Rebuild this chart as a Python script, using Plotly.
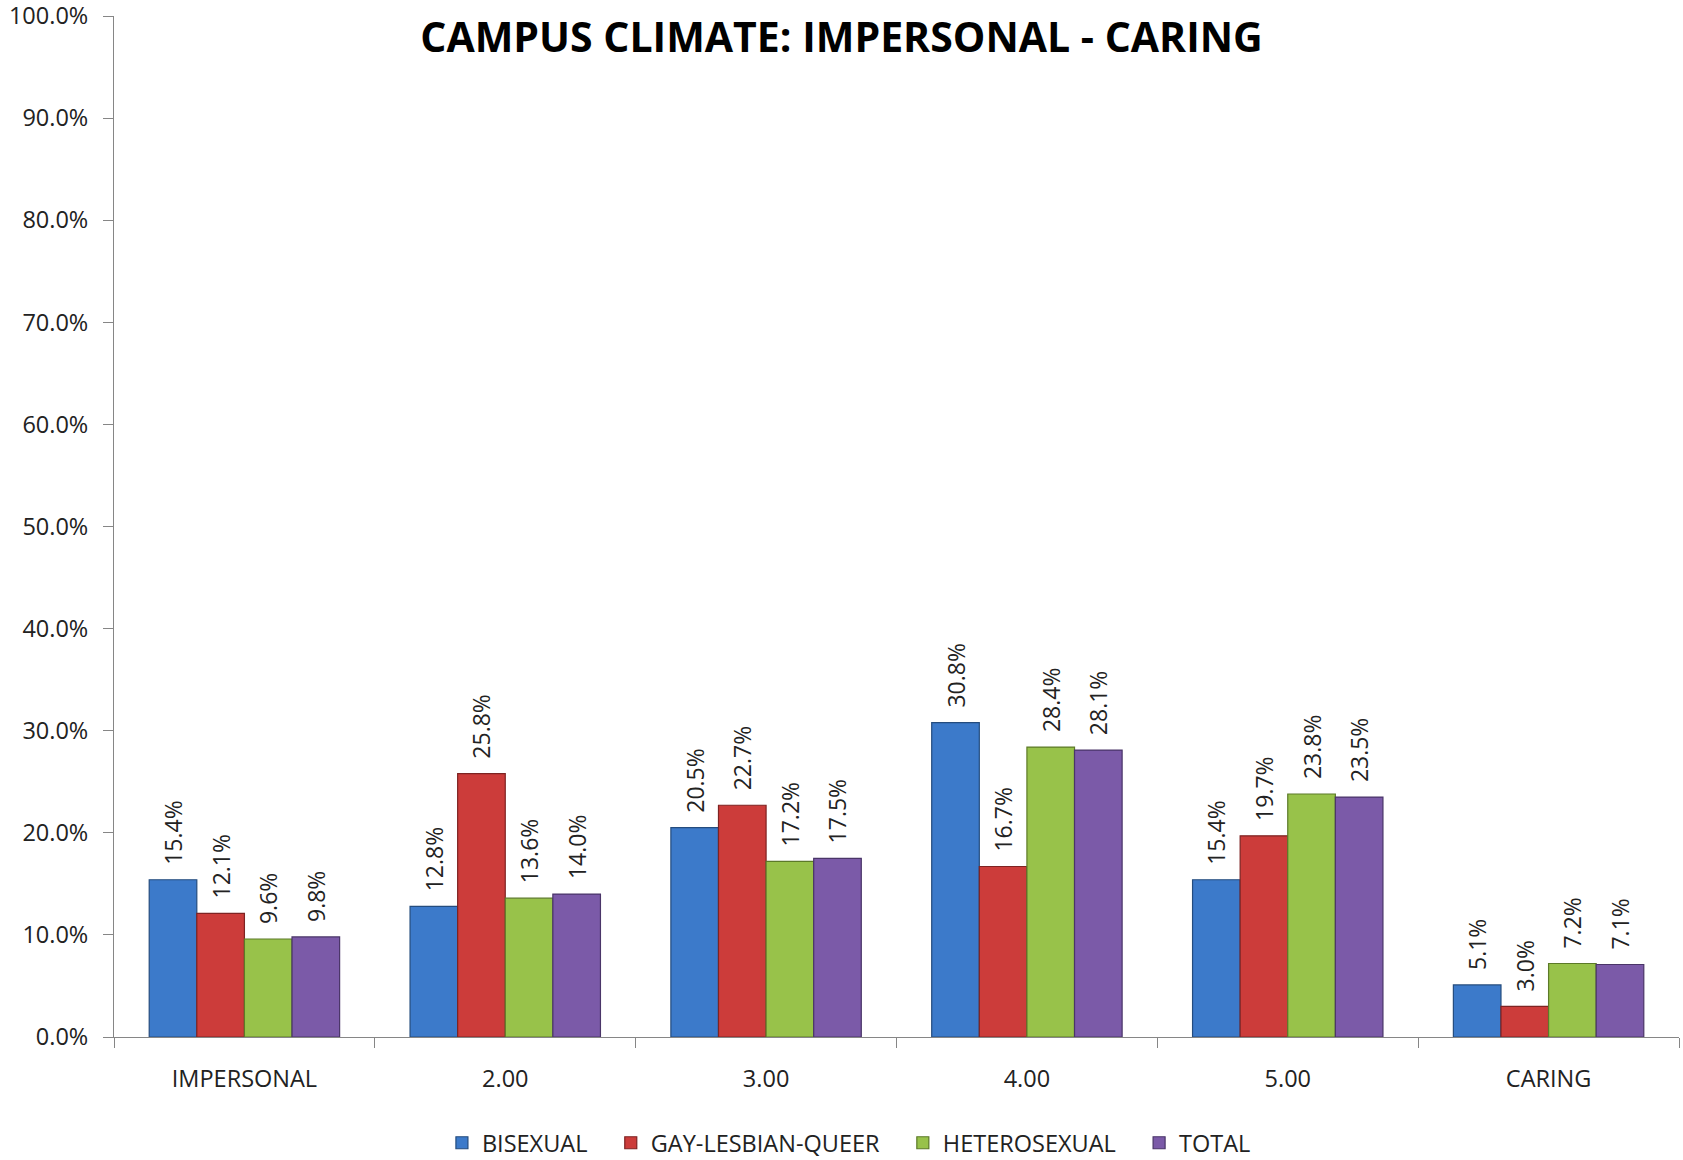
import plotly.graph_objects as go

categories = ["IMPERSONAL", "2.00", "3.00", "4.00", "5.00", "CARING"]
series_names = ["BISEXUAL", "GAY-LESBIAN-QUEER", "HETEROSEXUAL", "TOTAL"]
bisexual = [15.4, 12.8, 20.5, 30.8, 15.4, 5.1]
gay_lesbian_queer = [12.1, 25.8, 22.7, 16.7, 19.7, 3.0]
heterosexual = [9.6, 13.6, 17.2, 28.4, 23.8, 7.2]
total = [9.8, 14.0, 17.5, 28.1, 23.5, 7.1]
y_tick_values = [0, 10, 20, 30, 40, 50, 60, 70, 80, 90, 100]
y_tick_labels = ["0.0%", "10.0%", "20.0%", "30.0%", "40.0%", "50.0%",
                 "60.0%", "70.0%", "80.0%", "90.0%", "100.0%"]

fills = ["#3C7ACA", "#CC3C3A", "#98C24A", "#7B5AA8"]
edges = ["#244C7E", "#7E2322", "#5C7A28", "#4A3568"]

FONT = "Open Sans"
fig = go.Figure()
all_series = [bisexual, gay_lesbian_queer, heterosexual, total]
for i, (name, vals, fc, ec) in enumerate(zip(series_names, all_series, fills, edges)):
    legend_name = name + ("\u00a0\u00a0\u00a0" if i < len(series_names) - 1 else "")
    fig.add_trace(go.Bar(
        name=legend_name, x=categories, y=vals,
        marker=dict(color=fc, line=dict(color=ec, width=1.2)),
        text=["\u00a0\u00a0" + f"{v:.1f}%" for v in vals],
        textposition="outside", textangle=-90, constraintext="none",
        textfont=dict(family=FONT, size=23, color="#222222"),
        cliponaxis=False,
    ))

fig.update_layout(
    width=1683, height=1160,
    margin=dict(l=114, r=4, t=16, b=123, autoexpand=False),
    paper_bgcolor="white", plot_bgcolor="white",
    barmode="group", bargap=0.27, bargroupgap=0,
    title=dict(text="<b>CAMPUS CLIMATE: IMPERSONAL - CARING</b>",
               x=0.5, xanchor="center", y=0.9672, yanchor="middle",
               font=dict(family=FONT, size=41, color="black")),
    font=dict(family=FONT, size=23, color="#222222"),
    legend=dict(orientation="h", x=0.4696, xanchor="center", y=-0.1038, yanchor="middle",
                font=dict(family=FONT, size=23.5, color="#222222"),
                itemwidth=30, traceorder="normal"),
)
fig.update_xaxes(
    automargin=False,
    showline=True, linecolor="#868686", linewidth=1,
    ticks="outside", tickson="boundaries", ticklen=10, tickcolor="#868686",
    tickfont=dict(family=FONT, size=23.5, color="#222222"),
    ticklabelstandoff=21,
    showgrid=False,
)
fig.update_yaxes(
    automargin=False,
    range=[0, 100], tickvals=y_tick_values, ticktext=y_tick_labels,
    ticklabeloverflow="allow",
    showline=True, linecolor="#868686", linewidth=1,
    ticks="outside", ticklen=10, tickcolor="#868686",
    tickfont=dict(family=FONT, size=23.5, color="#222222"),
    ticklabelstandoff=10,
    showgrid=False, zeroline=False,
)
fig.write_html("out.html", config={"displayModeBar": False},
               post_script="document.body.style.margin='0';")
